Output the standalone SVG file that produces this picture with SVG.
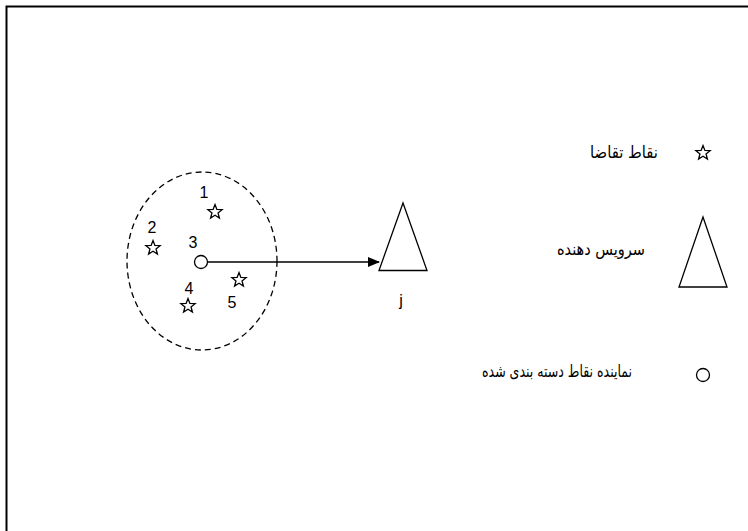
<svg xmlns="http://www.w3.org/2000/svg" width="748" height="531" viewBox="0 0 748 531">
<style>
.ln{fill:none;stroke:#000;stroke-width:1.3}
.num{font-family:"Liberation Sans",Arial,sans-serif;font-size:16px;fill:#000;text-anchor:middle}
.fa{font-family:"DejaVu Sans","Noto Sans",sans-serif;font-size:17px;fill:#000;text-anchor:end}
</style>
<defs>
<path id="star" d="M0,-7.5 L1.88,-2.59 L7.13,-2.32 L3.04,0.99 L4.41,6.07 L0,3.2 L-4.41,6.07 L-3.04,0.99 L-7.13,-2.32 L-1.88,-2.59 Z" fill="none" stroke="#000" stroke-width="1.3" stroke-linejoin="miter"/>
<marker id="arr" markerWidth="12" markerHeight="10" refX="11" refY="5" orient="auto" markerUnits="userSpaceOnUse">
<path d="M0,0 L12,5 L0,10 Z" fill="#000"/>
</marker>
</defs>
<rect width="748" height="531" fill="#fff"/>
<rect x="6.5" y="6.5" width="800" height="600" fill="none" stroke="#000" stroke-width="2"/>
<g id="cluster">
<ellipse cx="202" cy="261" rx="75" ry="89" fill="none" stroke="#000" stroke-width="1.3" stroke-dasharray="6,4"/>
</g>
<g id="p1"><use href="#star" x="215" y="212"/><text class="num" x="204" y="198">1</text></g>
<g id="p2"><use href="#star" x="153" y="248"/><text class="num" x="152" y="233">2</text></g>
<g id="p3"><circle cx="201" cy="262" r="6.5" class="ln"/><text class="num" x="193" y="248">3</text></g>
<g id="p4"><use href="#star" x="188" y="306"/><text class="num" x="189" y="294">4</text></g>
<g id="p5"><use href="#star" x="239" y="280"/><text class="num" x="232" y="308">5</text></g>
<g id="server-j">
<polygon points="403,203 379,270.5 427,270.5" class="ln"/>
<text class="num" x="401" y="306">j</text>
</g>
<g id="connectors">
<line x1="207.5" y1="262" x2="379" y2="262" stroke="#000" stroke-width="1.3" marker-end="url(#arr)"/>
</g>
<g id="legend-demand">
<use href="#star" x="703" y="153"/>
<text class="fa" x="658" y="158" textLength="68" lengthAdjust="spacingAndGlyphs">نقاط تقاضا</text>
</g>
<g id="legend-server">
<polygon points="703,217 679,287 727,287" class="ln"/>
<text class="fa" x="645" y="255" textLength="88" lengthAdjust="spacingAndGlyphs">سرویس دهنده</text>
</g>
<g id="legend-rep">
<circle cx="703" cy="375" r="6.5" class="ln"/>
<text class="fa" x="632" y="377" textLength="150" lengthAdjust="spacingAndGlyphs">نماینده نقاط دسته بندی شده</text>
</g>
</svg>
